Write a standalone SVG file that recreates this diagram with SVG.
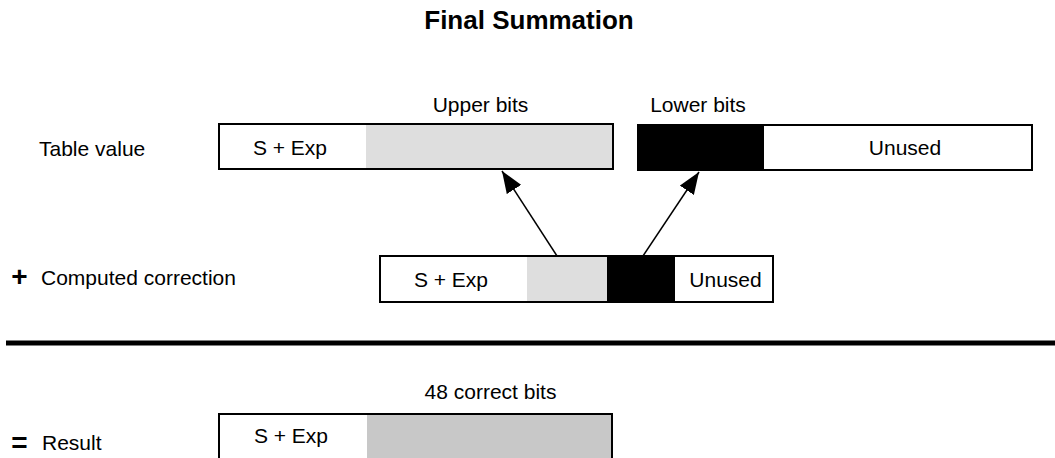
<svg xmlns="http://www.w3.org/2000/svg" width="1055" height="458" viewBox="0 0 1055 458">
  <style>
    text { font-family: "Liberation Sans", Arial, sans-serif; fill: #000; }
    .title { font-size: 26px; font-weight: bold; text-anchor: middle; }
    .lbl { font-size: 21px; }
    .mid { text-anchor: middle; }
    .op { font-size: 28px; font-weight: bold; text-anchor: middle; }
    .frame { fill: none; stroke: #000; stroke-width: 2; }
    .hi { fill: #dedede; }
    .lo { fill: #000; }
    .res { fill: #c8c8c8; }
    .conn { stroke: #000; stroke-width: 1.5; fill: none; }
  </style>
  <defs>
    <marker id="arrow" viewBox="0 0 22 17" refX="22" refY="8.5" markerWidth="22" markerHeight="17" markerUnits="userSpaceOnUse" orient="auto">
      <path d="M0,0 L22,8.5 L0,17 Z" fill="#000"/>
    </marker>
  </defs>

  <rect width="1055" height="458" fill="#fff"/>

  <text class="title" x="529" y="29">Final Summation</text>

  <!-- Table value row -->
  <g id="table-label">
    <text class="lbl" x="39" y="156">Table value</text>
  </g>
  <g id="table-upper">
    <text class="lbl mid" x="480.5" y="112">Upper bits</text>
    <rect x="366" y="124" width="247" height="45" class="hi"/>
    <rect x="219" y="124" width="394" height="45" class="frame"/>
    <text class="lbl mid" x="290" y="155">S + Exp</text>
  </g>
  <g id="table-lower">
    <text class="lbl mid" x="698" y="112">Lower bits</text>
    <rect x="637" y="125" width="127" height="45" class="lo"/>
    <rect x="638" y="125" width="394" height="45" class="frame"/>
    <text class="lbl mid" x="905" y="155">Unused</text>
  </g>

  <!-- Computed correction row -->
  <g id="correction-label">
    <text class="op" x="19.5" y="285.5">+</text>
    <text class="lbl" x="41" y="285">Computed correction</text>
  </g>
  <g id="correction">
    <rect x="527" y="256" width="80" height="46" class="hi"/>
    <rect x="607" y="256" width="68" height="47" class="lo"/>
    <rect x="380" y="256" width="393" height="46" class="frame"/>
    <text class="lbl mid" x="451" y="287">S + Exp</text>
    <text class="lbl mid" x="725.5" y="287">Unused</text>
  </g>

  <!-- Connectors -->
  <g id="connectors">
    <line class="conn" x1="557" y1="256" x2="502" y2="171" marker-end="url(#arrow)"/>
    <line class="conn" x1="643" y1="256" x2="699" y2="172" marker-end="url(#arrow)"/>
  </g>

  <!-- Sum rule -->
  <g id="sum-rule">
    <line x1="6" y1="343" x2="1055" y2="343" stroke="#000" stroke-width="5"/>
  </g>

  <!-- Result row -->
  <g id="result-label">
    <text class="op" x="19.5" y="452">=</text>
    <text class="lbl" x="42" y="450">Result</text>
  </g>
  <g id="result">
    <text class="lbl mid" x="490.5" y="399">48 correct bits</text>
    <rect x="367" y="414" width="245" height="45" class="res"/>
    <rect x="219" y="414" width="393" height="45" class="frame"/>
    <text class="lbl mid" x="291" y="443">S + Exp</text>
  </g>
</svg>
